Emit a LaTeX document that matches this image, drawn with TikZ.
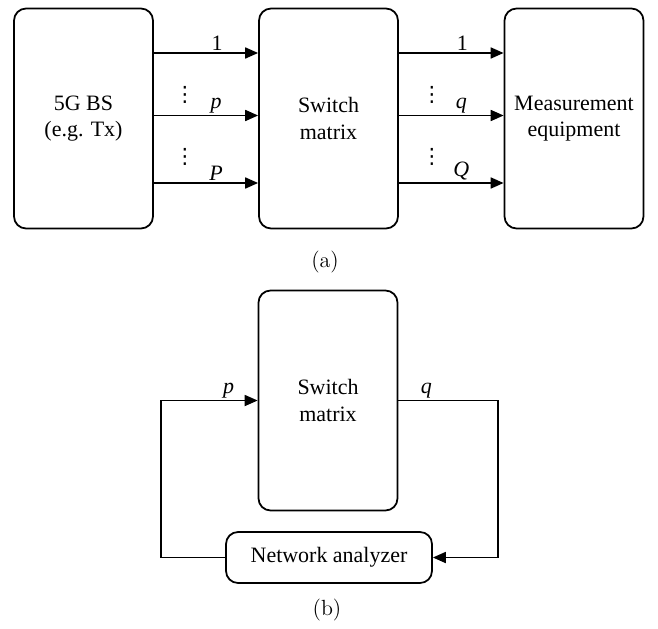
\documentclass[tikz,border=0pt]{standalone}
\usepackage{fontspec}
\setmainfont{Liberation Serif}
\newfontfamily\capfont{Latin Modern Roman}
\newfontfamily\symfont{DejaVu Sans}
\usepackage{tikz}
\usetikzlibrary{positioning,arrows.meta,calc}

\begin{document}
\begin{tikzpicture}[x=0.02cm, y=-0.02cm,
      every node/.style={font=\fontsize{12.5}{15}\selectfont, align=center},
      block/.style={draw, line width=1pt, rounded corners=2.4mm,
                    minimum width=2.78cm, minimum height=4.4cm, inner sep=2pt},
      analyzer/.style={draw, line width=1pt, rounded corners=2.4mm,
                       minimum width=4.12cm, minimum height=1.02cm, inner sep=2pt},
      lbl/.style={anchor=south, inner sep=1pt},
      vdots/.style={inner sep=0pt, font=\fontsize{12}{14}\symfont},
      subcap/.style={font=\fontsize{12.5}{15}\capfont},
      arr/.style={-{Triangle[length=2.6mm,width=2.2mm]}, line width=1pt}
  ]
    \useasboundingbox (0,0) rectangle (658,628);
    % (a)
    \node[block] (bs) at (83.5,118.5) {5G BS\\(e.g. Tx)};
    \node[block] (sw) at (328.5,118.5) {Switch\\matrix};
    \node[block] (meas) at (574,118.5) {Measurement\\equipment};
    \draw[arr] ($(bs.east)+(0,-65.5)$) -- node[lbl, xshift=0.22cm] {1} ($(sw.west)+(0,-65.5)$);
    \draw[arr] ($(bs.east)+(0,-3)$) -- node[lbl, xshift=0.2cm] {\textit{p}} ($(sw.west)+(0,-3)$);
    \draw[arr] ($(bs.east)+(0,64.5)$) -- node[lbl, xshift=0.2cm] {\textit{P}} ($(sw.west)+(0,64.5)$);
    \draw[arr] ($(sw.east)+(0,-65.5)$) -- node[lbl, xshift=0.22cm] {1} ($(meas.west)+(0,-65.5)$);
    \draw[arr] ($(sw.east)+(0,-3)$) -- node[lbl, xshift=0.2cm] {\textit{q}} ($(meas.west)+(0,-3)$);
    \draw[arr] ($(sw.east)+(0,64.5)$) -- node[lbl, xshift=0.2cm] {\textit{Q}} ($(meas.west)+(0,64.5)$);
    \node[vdots] (dotsa) at (185,95) {⋮};
    \node[vdots] (dotsb) at (185,157) {⋮};
    \node[vdots] (dotsc) at (432,95) {⋮};
    \node[vdots] (dotsd) at (432,157) {⋮};
    \node[subcap] (capa) at (325,262) {(a)};
    % (b)
    \node[block] (sw2) at (328,400.5) {Switch\\matrix};
    \node[analyzer] (na) at (329,557.5) {Network analyzer};
    \coordinate (lft) at (161,400.5);
    \coordinate (rgt) at (498,400.5);
    \draw[arr] (na.west) -| (lft) -- node[lbl, pos=0.7] {\textit{p}} (sw2.west);
    \draw[arr] (sw2.east) -- node[lbl, pos=0.28] {\textit{q}} (rgt) |- (na.east);
    \node[subcap] (capb) at (327,610) {(b)};
\end{tikzpicture}
\end{document}
